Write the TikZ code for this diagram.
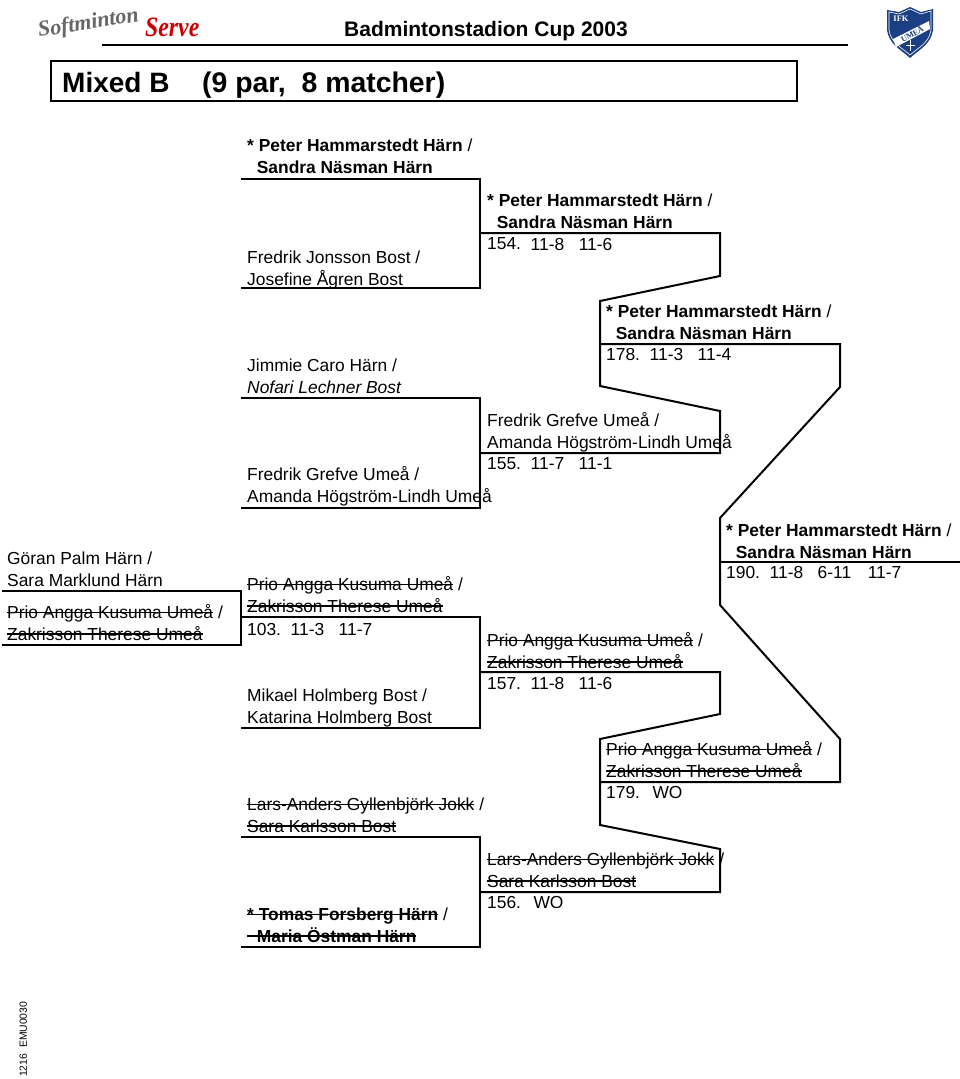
\documentclass[tikz,border=0pt]{standalone}
\usepackage{fontspec}
\setmainfont{Liberation Sans}
\newfontfamily\logofont{Liberation Serif}
\newsavebox{\strkbox}
\newcommand{\strk}[1]{\sbox{\strkbox}{#1}\rlap{\vrule width \wd\strkbox height 6.7pt depth -5.2pt}\usebox{\strkbox}}
\newcommand{\champ}{\bfseries * Peter Hammarstedt Härn \mdseries/\\\bfseries\ \ Sandra Näsman Härn}
\definecolor{ifkblue}{RGB}{28,62,130}
\tikzset{
 entry/.style={anchor=base west,inner sep=0pt,font=\fontsize{17.4}{21.6}\selectfont,align=left},
 bline/.style={draw=black,line width=2pt,line join=miter},
 sline/.style={draw=black,line width=2pt}
}
\begin{document}
\begin{tikzpicture}[x=1pt,y=-1pt]
\useasboundingbox (0,0) rectangle (960,1079);
\fill[white] (0,0) rectangle (960,1079);
% header
\node[inner sep=0pt,anchor=base west,font=\bfseries\fontsize{21}{24}\selectfont] (title) at (344,36) {Badmintonstadion Cup 2003};
\coordinate (hl) at (102,44.5); \coordinate (hr) at (848,44.5);
\draw[sline] (hl) -- (hr);
\node[draw=black,line width=2pt,inner sep=0pt,minimum width=746pt,minimum height=40pt,anchor=north west] (box) at (50,59.5) {};
\node[inner sep=0pt,anchor=base west,font=\bfseries\fontsize{28}{30}\selectfont] (mixed) at (62,92) {Mixed B};
\node[inner sep=0pt,anchor=base west,font=\bfseries\fontsize{28.4}{30}\selectfont] (par) at (202,92) {(9 par,\ \ 8 matcher)};
% logo
\node[inner sep=0pt,anchor=base west,text=black!60,font=\logofont\itshape\bfseries\fontsize{22}{24}\selectfont,rotate=9] (softm) at (39,37) {Softminton};
\node[inner sep=0pt,anchor=base west,text=red!80!black,font=\logofont\itshape\bfseries\fontsize{28}{30}\selectfont,xscale=.85] (serve) at (145,36) {Serve};
% shield
\fill[ifkblue] (887,10) -- (899,12) -- (910,7) -- (921,12) -- (933,9) -- (933,30) .. controls (931,44) and (920,49) .. (910,58) .. controls (900,49) and (889,44) .. (887,30) -- cycle;
\draw[white,line width=.6pt] (889,12) -- (899,14) -- (910,9) -- (921,14) -- (931,11) -- (931,30) .. controls (929,43) and (919,47) .. (910,55) .. controls (901,47) and (891,43) .. (889,30) -- cycle;
\node[inner sep=0pt,text=white,font=\logofont\bfseries\fontsize{8.5}{9}\selectfont] (ifk) at (901,19) {IFK};
\fill[white] (893,39) -- (929,21) -- (930,29) -- (896,47) -- cycle;
\node[inner sep=0pt,text=ifkblue,rotate=28,font=\logofont\bfseries\fontsize{8}{9}\selectfont] (umea) at (912,34) {UMEÅ};
\draw[white,line width=.9pt] (910,40) -- (910,51) (905.5,45.5) -- (914.5,45.5);
% rotated
\node[inner sep=0pt,anchor=base west,rotate=90,font=\fontsize{10.4}{12}\selectfont] (code) at (27,1077) {1216\ \ EMU0030};
% entries, round 0
\node[entry] (a1) at (7,586) {Göran Palm Härn /\\Sara Marklund Härn};
\node[entry] (a2) at (7,640) {\strk{Prio Angga Kusuma Umeå} /\\\strk{Zakrisson Therese Umeå}};
% round 1
\node[entry] (b1) at (247,173) {\champ};
\node[entry] (b2) at (247,285) {Fredrik Jonsson Bost /\\Josefine Ågren Bost};
\node[entry] (b3) at (247,393) {Jimmie Caro Härn /\\\itshape Nofari Lechner Bost};
\node[entry] (b4) at (247,502) {Fredrik Grefve Umeå /\\Amanda Högström-Lindh Umeå};
\node[entry] (b5) at (247,612) {\strk{Prio Angga Kusuma Umeå} /\\\strk{Zakrisson Therese Umeå}};
\node[entry] (s103) at (247,635) {103.\ \ 11-3\ \ \ 11-7};
\node[entry] (b6) at (247,723) {Mikael Holmberg Bost /\\Katarina Holmberg Bost};
\node[entry] (b7) at (247,832) {\strk{Lars-Anders Gyllenbjörk Jokk} /\\\strk{Sara Karlsson Bost}};
\node[entry] (b8) at (247,942) {\strk{\bfseries * Tomas Forsberg Härn} /\\\strk{\bfseries\ \ Maria Östman Härn}};
% round 2
\node[entry] (c1) at (487,228) {\champ};
\node[entry] (s154) at (487,249) {154.\ \ \raisebox{-1.7pt}{11-8\ \ \ 11-6}};
\node[entry] (c2) at (487,448) {Fredrik Grefve Umeå /\\Amanda Högström-Lindh Umeå};
\node[entry] (s155) at (487,469) {155.\ \ 11-7\ \ \ 11-1};
\node[entry] (c3) at (487,668) {\strk{Prio Angga Kusuma Umeå} /\\\strk{Zakrisson Therese Umeå}};
\node[entry] (s157) at (487,689) {157.\ \ 11-8\ \ \ 11-6};
\node[entry] (c4) at (487,887) {\strk{Lars-Anders Gyllenbjörk Jokk} /\\\strk{Sara Karlsson Bost}};
\node[entry] (s156) at (487,908) {156.\ \ \ \kern-2pt WO};
% round 3
\node[entry] (d1) at (606,339) {\champ};
\node[entry] (s178) at (606,360) {178.\ \ 11-3\ \ \ 11-4};
\node[entry] (d2) at (606,777) {\strk{Prio Angga Kusuma Umeå} /\\\strk{Zakrisson Therese Umeå}};
\node[entry] (s179) at (606,798) {179.\ \ \ \kern-2pt WO};
% final
\node[entry] (e1) at (726,558) {\champ};
\node[entry] (s190) at (726,578) {190.\ \ 11-8\ \ \ 6-11\ \ \ \kern2pt 11-7};
% lines
\draw[bline] (2,591) -- (240.5,591) -- (240.5,645) -- (2,645);
\draw[bline] (241,179) -- (480,179) -- (480,288) -- (241,288);
\draw[bline] (241,398) -- (480,398) -- (480,508) -- (241,508);
\draw[bline] (241,617) -- (480,617) -- (480,727.5) -- (241,727.5);
\draw[bline] (241,837) -- (480,837) -- (480,947) -- (241,947);
\draw[bline] (481,233) -- (720,233) -- (720,276) -- (600,301) -- (600,344) -- (840,344) -- (840,387) -- (720,518) -- (720,605) -- (840,739) -- (840,782) -- (600,782) -- (600,825) -- (720,849) -- (720,892) -- (481,892);
\draw[bline] (481,453) -- (720,453) -- (720,411) -- (600,386) -- (600,344);
\draw[bline] (481,672) -- (720,672) -- (720,714) -- (600,739) -- (600,782);
\draw[bline] (720,562) -- (960,562);
\end{tikzpicture}
\end{document}
